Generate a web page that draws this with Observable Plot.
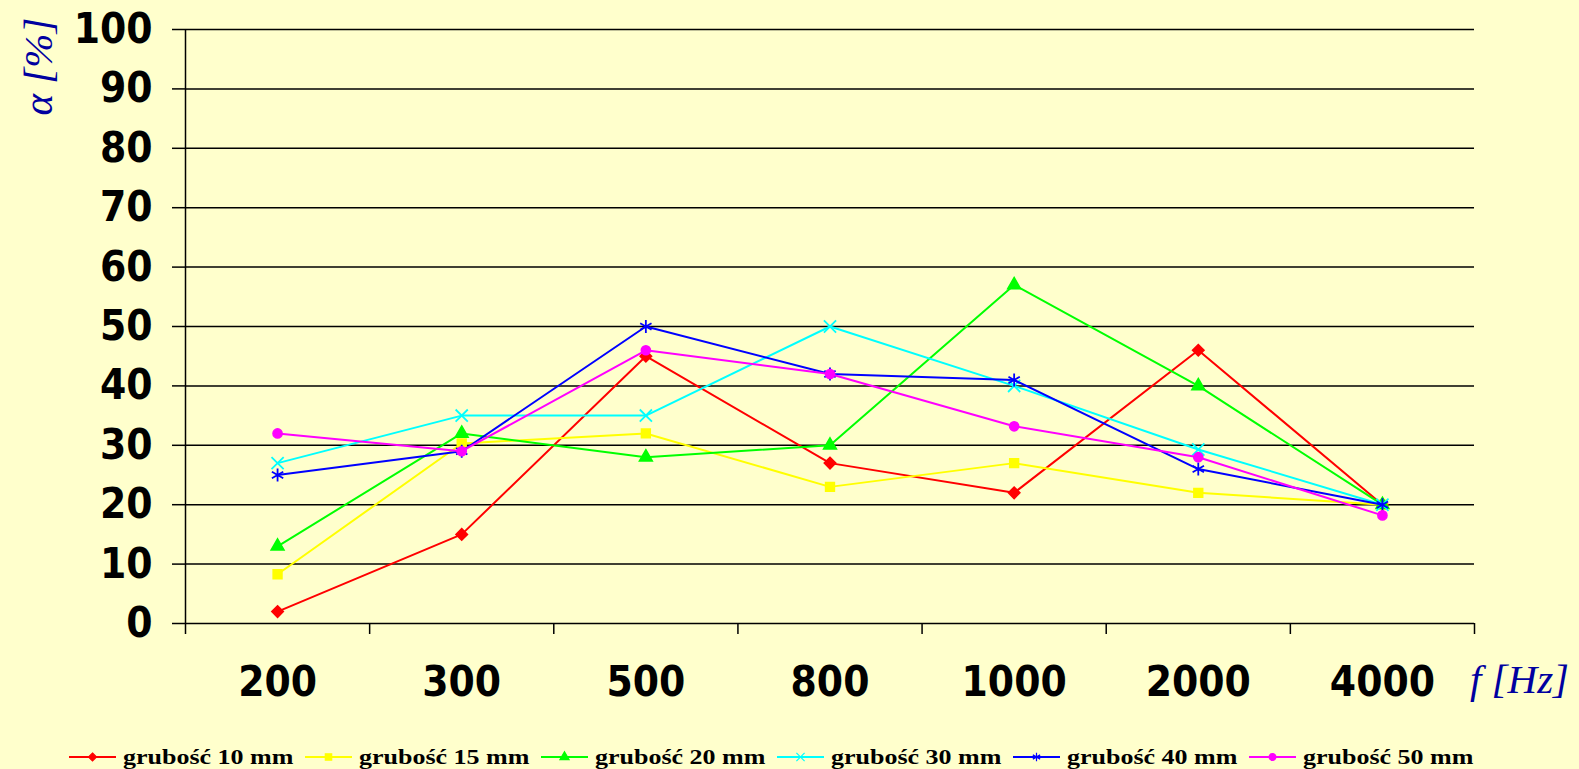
<!DOCTYPE html>
<html>
<head>
<meta charset="utf-8">
<script src="https://cdn.jsdelivr.net/npm/d3@7"></script>
<script src="https://cdn.jsdelivr.net/npm/@observablehq/plot@0.6"></script>
<style>
  html, body { margin: 0; padding: 0; background: #ffffcc; overflow: hidden; width: 1579px; height: 769px; }
  #wrap { position: relative; width: 1579px; height: 769px; background: #ffffcc; overflow: hidden; }
  #chart svg { max-width: none !important; display: block; }
  #legend { position: absolute; left: 69px; top: 747px; height: 20px; display: flex; align-items: center;
            font: bold 20px "Liberation Serif", "Times New Roman", serif; color: #000; line-height: 20px; }
  .item { display: flex; align-items: center; width: 236px; }
  .item svg { margin-right: 7px; flex: none; }
  .item span { display: inline-block; white-space: nowrap; transform: scaleX(1.3); transform-origin: 0 50%; }
</style>
</head>
<body>
<div id="wrap">
  <div id="chart"></div>
  <div id="legend"></div>
</div>
<script>
// ---- data ----
const freqs = ["200", "300", "500", "800", "1000", "2000", "4000"];
const seriesNames = ["grubość 10 mm", "grubość 15 mm", "grubość 20 mm", "grubość 30 mm", "grubość 40 mm", "grubość 50 mm"];
const g10 = [2, 15, 45, 27, 22, 46, 20];
const g15 = [8.3, 30.3, 32, 23, 27, 22, 20];
const g20 = [13, 32, 28, 30, 57, 40, 20];
const g30 = [27, 35, 35, 50, 40, 29.3, 20];
const g40 = [25, 29, 50, 42, 41, 26, 20];
const g50 = [32, 29, 46, 42, 33.2, 28, 18.2];
const yTicks = [0, 10, 20, 30, 40, 50, 60, 70, 80, 90, 100];

// ---- styles ----
const colors = ["#ff0000", "#ffff00", "#00ff00", "#00ffff", "#0000ff", "#ff00ff"];
const symbols = ["diamond2", "square", "triangle", "times", "asterisk", "circle"];
const symbolR = [5.2, 5, 4.8, 5.6, 6.2, 4.6];
const symbolSW = [1.5, 1.5, 1.5, 1.8, 1.8, 1.5];
const legendR = [3.6, 3.6, 3.4, 3.8, 4, 3.4];

const allValues = [g10, g15, g20, g30, g40, g50];
const rows = allValues.flatMap((vals, k) =>
  vals.map((v, i) => ({ i, freq: freqs[i], value: v, series: seriesNames[k] })));
const boundaries = d3.range(freqs.length + 1).map(i => i - 0.5);
const centers = d3.range(freqs.length);

const blueLabel = { fontFamily: "Liberation Serif, Times New Roman, serif", fontStyle: "italic", fontSize: 41, fill: "#0000a0" };
const tickFont = { fontSize: 42, fontWeight: "bold", fontFamily: "DejaVu Sans Condensed, DejaVu Sans", fill: "#000" };

const marks = [
  Plot.ruleY(yTicks, { y: d => d, stroke: "#000", strokeWidth: 1.5 }),
  Plot.ruleX([boundaries[0]], { x: d => d, stroke: "#000", strokeWidth: 1.5 }),
  Plot.axisY({ ticks: yTicks, tickSize: 13, tickPadding: 20, stroke: "#000", strokeWidth: 1.5, label: null, ...tickFont }),
  Plot.axisX({ ticks: boundaries, tickSize: 11, tickFormat: () => "", stroke: "#000", strokeWidth: 1.5, label: null }),
  Plot.axisX({ ticks: centers, tickSize: 0, tickPadding: 43, tickFormat: i => freqs[i], label: null, ...tickFont })
];

seriesNames.forEach((name, k) => {
  const sub = rows.filter(r => r.series === name);
  marks.push(Plot.line(sub, { x: "i", y: "value", stroke: colors[k], strokeWidth: 2 }));
  marks.push(Plot.dot(sub, { x: "i", y: "value", symbol: symbols[k], r: symbolR[k],
                             fill: colors[k], stroke: colors[k], strokeWidth: symbolSW[k] }));
});

marks.push(Plot.text(["α [%]"], { frameAnchor: "top-left", dx: -147, dy: 37, rotate: -90,
                                   textAnchor: "middle", lineAnchor: "middle", ...blueLabel }));
marks.push(Plot.text(["f [Hz]"], { frameAnchor: "bottom-right", dx: 45, dy: 56,
                                    textAnchor: "middle", lineAnchor: "middle", ...blueLabel }));

const chart = Plot.plot({
  width: 1579,
  height: 700,
  marginLeft: 185,
  marginRight: 105,
  marginTop: 29,
  marginBottom: 77,
  style: { background: "#ffffcc", overflow: "visible" },
  x: { type: "linear", domain: [boundaries[0], boundaries[boundaries.length - 1]] },
  y: { domain: [0, 100] },
  marks
});
document.getElementById("chart").appendChild(chart);

// ---- legend ----
const legend = d3.select("#legend");
const symMap = { diamond2: d3.symbolDiamond2, square: d3.symbolSquare, triangle: d3.symbolTriangle,
                 times: d3.symbolTimes, asterisk: d3.symbolAsterisk, circle: d3.symbolCircle };
seriesNames.forEach((name, k) => {
  const item = legend.append("div").attr("class", "item");
  const svg = item.append("svg").attr("width", 47).attr("height", 16);
  svg.append("line").attr("x1", 0).attr("x2", 47).attr("y1", 8).attr("y2", 8)
     .attr("stroke", colors[k]).attr("stroke-width", 2);
  const r = legendR[k];
  svg.append("path").attr("transform", "translate(23.5,8)")
     .attr("d", d3.symbol(symMap[symbols[k]], Math.PI * r * r)())
     .attr("fill", colors[k]).attr("stroke", colors[k]).attr("stroke-width", 1.2);
  item.append("span").text(name);
});
</script>
</body>
</html>
